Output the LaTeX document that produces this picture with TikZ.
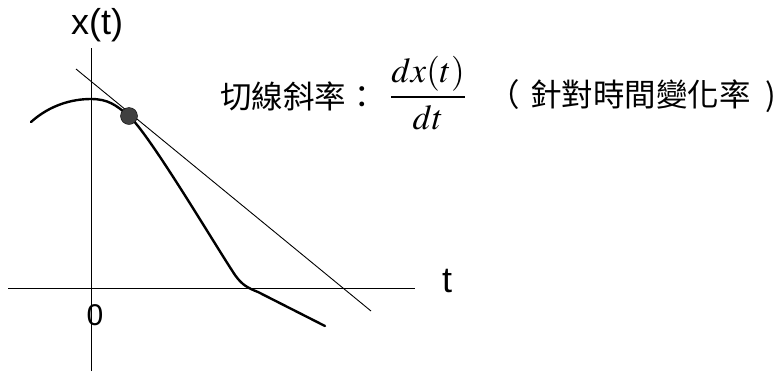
\documentclass[tikz,border=0pt]{standalone}
\usepackage{mathptmx}
\usepackage{fontspec}
\setmainfont{Liberation Sans}
\newfontfamily\cjkfont{Noto Sans CJK TC}
\usetikzlibrary{calc,positioning}

\begin{document}
\begin{tikzpicture}[x=1bp,y=-1bp,
  axis/.style={line width=0.9bp},
  curve/.style={line width=2.4bp,line join=round,line cap=round},
  lbl/.style={inner sep=0pt,font=\fontsize{36bp}{38bp}\selectfont},
  cjk/.style={inner sep=0pt,font=\fontsize{31.5bp}{33bp}\selectfont\cjkfont}]
  \useasboundingbox (0,0) rectangle (783,371);
  \coordinate (ybot) at (91,371);
  \coordinate (ytop) at (91,48);
  \coordinate (xleft) at (8,288);
  \coordinate (xright) at (415,288);
  \draw[axis] (ybot) -- (ytop);
  \draw[axis] (xleft) -- (xright);
  \node[lbl] (xlab) at (97,25) {x(t)};
  \node[lbl] (tlab) at (447,281) {t};
  \node[inner sep=0pt,font=\fontsize{30bp}{32bp}\selectfont] (zero) at (95,315) {0};
  \coordinate (tanA) at (76,69);
  \coordinate (tanB) at (371,311);
  \draw[axis] (tanA) -- (tanB);
  \draw[curve] (31,122) .. controls (50,105) and (72,99) .. (91,99)
    .. controls (108,99) and (116,105) .. (129,116)
    .. controls (150,135) and (215,245) .. (235,275)
    .. controls (242,285) and (248,288) .. (258,292) -- (325,326);
  \node[circle,fill=black!75,draw=black,minimum size=17bp,inner sep=0pt] (pt) at (129,116) {};
  \node[cjk,anchor=west] (slope) at (220,96) {切線斜率：};
  \node[inner sep=0pt,font=\fontsize{35bp}{37bp}\selectfont] (frac) at (428,93) {$\displaystyle\frac{dx(t)}{dt}$};
  \node[cjk,anchor=west] (rate) at (488,96) {（\kern10.5bp 針對時間變化率\kern14.5bp)};
\end{tikzpicture}
\end{document}
